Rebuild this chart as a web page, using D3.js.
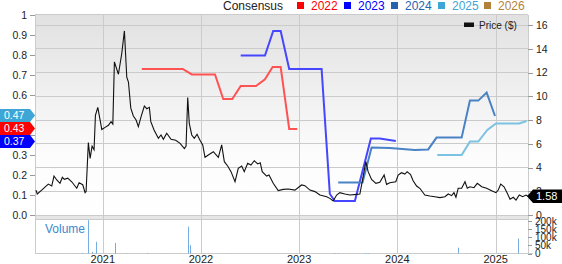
<!DOCTYPE html>
<html><head><meta charset="utf-8">
<script src="https://cdn.jsdelivr.net/npm/d3@7/dist/d3.min.js"></script>
<style>body{margin:0;background:#fff}svg{display:block;font-family:"Liberation Sans",Arial,sans-serif}</style>
</head><body><svg id="c" width="562" height="264"></svg>
<script>
// ---- data (dates as decimal years) ----
const priceT = [2020.321,2020.334,2020.379,2020.446,2020.481,2020.504,2020.532,2020.565,2020.589,2020.609,2020.644,2020.684,2020.735,2020.759,2020.796,2020.820,2020.830,2020.853,2020.871,2020.891,2020.911,2020.925,2020.949,2020.990,
2021.023,2021.057,2021.084,2021.102,2021.118,2021.159,2021.193,2021.220,2021.244,2021.261,2021.285,2021.311,2021.339,2021.362,2021.390,2021.423,2021.448,2021.474,2021.489,2021.522,2021.566,2021.593,2021.617,2021.651,2021.695,2021.743,2021.787,2021.831,2021.848,2021.865,2021.881,2021.906,2021.932,2021.960,2021.990,
2022.018,2022.041,2022.075,2022.126,2022.177,2022.211,2022.238,2022.272,2022.306,2022.347,2022.380,2022.415,2022.441,2022.476,2022.509,2022.543,2022.578,2022.604,2022.624,2022.669,2022.693,2022.736,2022.787,2022.838,2022.889,2022.957,
2023.025,2023.059,2023.110,2023.161,2023.212,2023.280,2023.313,2023.347,2023.382,2023.415,2023.466,2023.517,2023.585,2023.619,2023.646,2023.680,2023.703,2023.738,2023.782,2023.822,2023.866,2023.891,2023.924,2023.985,
2024.009,2024.043,2024.077,2024.100,2024.135,2024.161,2024.196,2024.229,2024.280,2024.331,2024.382,2024.433,2024.484,2024.518,2024.552,2024.576,2024.596,2024.619,2024.654,2024.688,2024.711,2024.738,2024.779,2024.813,2024.858,2024.908,2024.959,
2025.003,2025.026,2025.051,2025.085,2025.118,2025.146,2025.179,2025.207,2025.240,2025.275,2025.308,2025.328];
const priceV = [2.1,1.77,2.1,2.6,2.44,3.28,2.95,2.67,3.17,3.0,3.1,2.8,2.25,2.72,2.55,1.88,1.97,6.1,4.77,5.8,5.5,8.4,9.07,7.2,
7.38,7.55,7.86,7.66,12.9,11.85,13.6,15.5,11.6,11.2,9.0,8.34,8.0,7.44,8.28,9.18,8.95,9.07,7.86,7.16,6.46,6.74,6.37,6.88,6.37,6.3,6.03,5.6,5.8,9.9,7.72,6.74,6.46,6.8,6.3,
5.9,4.86,5.05,5.33,4.86,5.9,4.49,4.13,3.65,2.8,3.93,4.13,3.65,4.35,4.21,4.57,4.3,4.4,3.65,3.28,3.37,2.67,2.05,2.16,2.19,2.1,
2.53,2.47,2.1,1.97,1.68,1.54,1.4,1.18,1.68,1.88,1.77,1.68,1.74,1.77,2.95,4.49,3.65,3.0,2.67,2.75,3.37,2.58,2.72,2.8,
3.37,3.56,3.45,3.65,3.4,2.89,2.44,2.25,1.68,1.6,1.54,1.46,1.54,1.77,1.63,1.88,1.49,2.25,2.25,2.8,2.25,2.38,2.3,2.67,2.38,2.25,2.05,
1.88,2.1,2.6,2.38,1.83,1.32,1.49,1.26,1.68,1.54,1.68,1.58];

const cons2022T = [2021.397,2021.814,2021.906,2022.143,2022.227,2022.319,2022.405,2022.560,2022.652,2022.730,2022.812,2022.899,2022.981];
const cons2022V = [0.73,0.73,0.703,0.703,0.58,0.58,0.645,0.645,0.678,0.74,0.74,0.43,0.43];
const cons2023T = [2022.405,2022.652,2022.736,2022.812,2022.899,2023.229,2023.313,2023.364,2023.568,2023.731,2023.822,2023.985];
const cons2023V = [0.797,0.797,0.92,0.92,0.73,0.73,0.105,0.07,0.07,0.383,0.383,0.37];
const cons2024T = [2023.398,2023.646,2023.738,2023.924,2024.179,2024.314,2024.399,2024.654,2024.738,2024.823,2024.908,2024.993];
const cons2024V = [0.162,0.162,0.337,0.335,0.325,0.328,0.387,0.387,0.572,0.572,0.612,0.495];
const cons2025T = [2024.406,2024.654,2024.738,2024.823,2024.915,2025.003,2025.240,2025.315];
const cons2025V = [0.30,0.30,0.367,0.367,0.425,0.458,0.458,0.47];

const volT = [2020.40,2020.55,2020.70,2020.792,2020.853,2020.894,2020.926,2020.932,2021.122,2021.128,2021.25,2021.448,2021.60,2021.871,2021.892,2022.02,2022.30,2023.35,2023.37,2023.40,2023.66,2023.68,2023.70,2024.619,2024.70,2025.02,2025.05,2025.08,2025.230];
const volV = [1500,1500,1500,4000,205000,10000,60000,72000,65000,60000,2000,4000,1500,165000,51000,2000,1500,3000,3000,3000,3000,3000,3000,36000,2000,3000,3000,3000,92000];

const yearTicks = [2021,2022,2023,2024,2025];
const leftTicks = [0,0.1,0.2,0.3,0.4,0.5,0.6,0.7,0.8,0.9,1];
const leftTickLabels = ["0.0","0.1","0.2","0.3","0.4","0.5","0.6","0.7","0.8","0.9","1"];
const rightTicks = [0,2,4,6,8,10,12,14,16];
const volTicks = [0,50000,100000,150000,200000];
const volTickLabels = ["0","50k","100k","150k","200k"];
const legendYears = ["2022","2023","2024","2025","2026"];
const legendColors = ["#ff0000","#0000ff","#2563b0","#3ea6d6","#b3823a"];
const lineColors = ["#ff5252","#4646ff","#4a82c6","#7cc2e2"];
const lastPrice = 1.58;

// ---- helpers ----
function yd(v){const y=Math.floor(v);const s=Date.UTC(y,0,1),e=Date.UTC(y+1,0,1);return new Date(s+(v-y)*(e-s));}

const svg = d3.select("#c");
const L=35,R=528,T=15,B=215,VT=219,VB=253.5;
const x = d3.scaleUtc().domain([yd(2020.311),yd(2025.329)]).range([L,R]);
const yL = d3.scaleLinear().domain([0,1]).range([B,T]);
const yR = d3.scaleLinear().domain([0,16]).range([B,25]);
const yV = d3.scaleLinear().domain([0,200000]).range([VB,221]);

const defs = svg.append("defs");
const g = defs.append("linearGradient").attr("id","bg").attr("x1",0).attr("y1",0).attr("x2",0).attr("y2",1);
g.append("stop").attr("offset","0%").attr("stop-color","#e1e1e1");
g.append("stop").attr("offset","70%").attr("stop-color","#fcfcfc");
g.append("stop").attr("offset","100%").attr("stop-color","#ffffff");

svg.append("rect").attr("x",L).attr("y",T).attr("width",R-L).attr("height",B-T).attr("fill","url(#bg)");
svg.append("rect").attr("x",L).attr("y",B).attr("width",R-L).attr("height",VT-B).attr("fill","#e6e6e6");
svg.append("rect").attr("x",L).attr("y",VT).attr("width",R-L).attr("height",VB-VT).attr("fill","#fff");

const grid = svg.append("g").attr("stroke","#cbcbcb").attr("stroke-width",1).attr("shape-rendering","crispEdges");
rightTicks.forEach(t=>grid.append("line").attr("x1",L).attr("x2",R).attr("y1",yR(t)).attr("y2",yR(t)));
grid.append("line").attr("x1",L).attr("x2",R).attr("y1",T-0.5).attr("y2",T-0.5);
grid.append("line").attr("x1",L).attr("x2",R).attr("y1",VT).attr("y2",VT);
grid.append("line").attr("x1",L).attr("x2",R+5).attr("y1",VB).attr("y2",VB);
yearTicks.forEach(t=>{const xx=Math.round(x(yd(t)))+0.5;grid.append("line").attr("x1",xx).attr("x2",xx).attr("y1",T).attr("y2",VB);});
grid.append("line").attr("x1",L).attr("x2",L).attr("y1",T-0.5).attr("y2",VB);
grid.append("line").attr("x1",R).attr("x2",R).attr("y1",T-0.5).attr("y2",VB);

// left axis
const la = svg.append("g").attr("font-size","10.5px").attr("fill","#222");
leftTicks.forEach((t,i)=>{
  la.append("line").attr("x1",30).attr("x2",L).attr("y1",Math.round(yL(t))+0.5).attr("y2",Math.round(yL(t))+0.5).attr("stroke","#999");
  la.append("text").attr("x",27).attr("y",yL(t)).attr("dy","0.36em").attr("text-anchor","end").text(leftTickLabels[i]);
});
// right axis
const ra = svg.append("g").attr("font-size","10.5px").attr("fill","#222");
rightTicks.forEach(t=>{
  ra.append("line").attr("x1",R).attr("x2",R+5).attr("y1",Math.round(yR(t))+0.5).attr("y2",Math.round(yR(t))+0.5).attr("stroke","#999");
  ra.append("text").attr("x",R+8).attr("y",yR(t)).attr("dy","0.36em").text(t);
});
// volume axis
const va = svg.append("g").attr("font-size","10px").attr("fill","#222");
volTicks.forEach((t,i)=>{
  va.append("line").attr("x1",R).attr("x2",R+4).attr("y1",Math.round(yV(t))+0.5).attr("y2",Math.round(yV(t))+0.5).attr("stroke","#999");
  va.append("text").attr("x",R+7).attr("y",yV(t)).attr("dy","0.36em").text(volTickLabels[i]);
});
// x labels
const xa = svg.append("g").attr("font-size","11px").attr("fill","#222").attr("text-anchor","middle");
yearTicks.forEach(t=>xa.append("text").attr("x",x(yd(t))).attr("y",263).text(t));

// volume bars
svg.append("g").attr("fill","#76ade0").selectAll("rect").data(volT.map((t,i)=>({t,v:volV[i]}))).join("rect")
  .attr("x",d=>Math.round(x(yd(d.t)))).attr("width",1)
  .attr("y",d=>yV(d.v)).attr("height",d=>VB-yV(d.v));
svg.append("text").attr("x",45).attr("y",232.5).attr("font-size","12px").attr("fill","#3a8ad0").text("Volume");

// consensus lines
const lineL = d3.line().x(d=>x(yd(d[0]))).y(d=>yL(d[1]));
[[cons2022T,cons2022V],[cons2023T,cons2023V],[cons2024T,cons2024V],[cons2025T,cons2025V]].forEach((s,i)=>{
  svg.append("path").attr("d",lineL(s[0].map((t,j)=>[t,s[1][j]]))).attr("fill","none").attr("stroke",lineColors[i]).attr("stroke-width",2);
});
// price line
const lineP = d3.line().x(d=>x(yd(d[0]))).y(d=>yR(d[1]));
svg.append("path").attr("d",lineP(priceT.map((t,i)=>[t,priceV[i]]))).attr("fill","none").attr("stroke","#111").attr("stroke-width",1.1);

// legend
const lg = svg.append("g").attr("font-size","12px");
lg.append("text").attr("x",223).attr("y",9.5).attr("fill","#222").text("Consensus");
const legX=[297,344,391,438,484];
legendYears.forEach((yv,i)=>{
  lg.append("rect").attr("x",legX[i]).attr("y",2).attr("width",7).attr("height",7).attr("fill",legendColors[i]);
  lg.append("text").attr("x",legX[i]+14).attr("y",9.5).attr("fill",legendColors[i]).text(yv);
});
svg.append("rect").attr("x",464).attr("y",22.5).attr("width",10).attr("height",4.5).attr("fill","#111");
svg.append("text").attr("x",479).attr("y",29).attr("font-size","10px").attr("fill","#222").text("Price ($)");

// left value tags
const tags = [
  {v:cons2022V[cons2022V.length-1],c:legendColors[0]},
  {v:cons2025V[cons2025V.length-1],c:legendColors[3]},
  {v:cons2023V[cons2023V.length-1],c:legendColors[1]}
];
const sorted = tags.slice().sort((a,b)=>a.v-b.v);
let prev=null;
sorted.forEach(d=>{d.y=yL(d.v)+0.5; if(prev!==null && prev-d.y<13) d.y=prev-13; prev=d.y;});
tags.forEach(d=>{
  const h=13,y0=d.y-h/2;
  svg.append("path").attr("d",`M0,${y0}H30L35,${d.y}L30,${y0+h}H0Z`).attr("fill",d.c);
  svg.append("text").attr("x",4).attr("y",d.y).attr("dy","0.35em").attr("font-size","10.5px").attr("fill","#fff").text(d.v.toFixed(2));
});
// price tag
const py = yR(lastPrice);
svg.append("path").attr("d",`M527,${py}L533,${py-6.8}H562V${py+6.8}H533Z`).attr("fill","#000");
svg.append("text").attr("x",536).attr("y",py).attr("dy","0.36em").attr("font-size","11px").attr("fill","#fff").text(lastPrice.toFixed(2));
</script></body></html>
